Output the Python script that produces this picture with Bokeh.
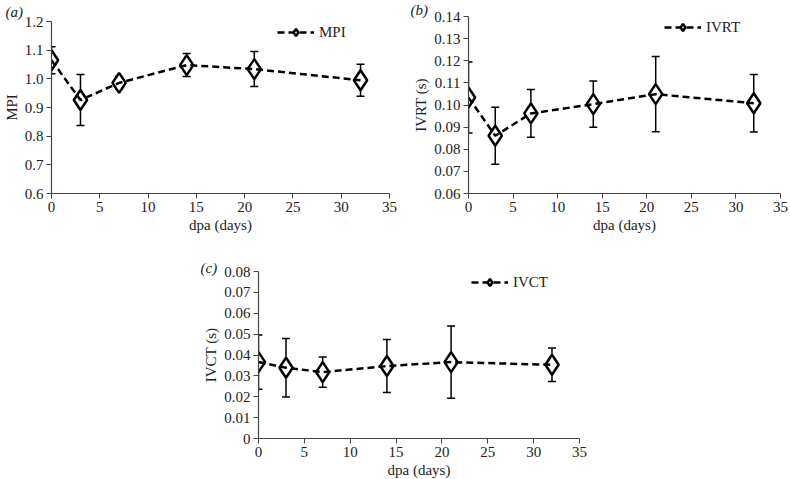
from bokeh.plotting import figure
from bokeh.models import (Whisker, ColumnDataSource, Legend, LegendItem, Title,
                          FixedTicker, PrintfTickFormatter, Spacer, TeeHead)
from bokeh.layouts import column, row
from bokeh.embed import file_html
from bokeh.resources import INLINE

days = [0, 3, 7, 14, 21, 32]

mpi = [1.065, 0.926, 0.986, 1.048, 1.034, 0.995]
mpi_err = [0.047, 0.089, 0.022, 0.040, 0.061, 0.056]

ivrt = [0.1034, 0.0861, 0.0962, 0.1004, 0.1049, 0.1008]
ivrt_err = [0.0160, 0.0129, 0.0108, 0.0104, 0.0170, 0.0130]

ivct = [0.0366, 0.0339, 0.0318, 0.0347, 0.0366, 0.0353]
ivct_err = [0.0130, 0.0140, 0.0072, 0.0127, 0.0173, 0.0080]

x_ticks = [0, 5, 10, 15, 20, 25, 30, 35]
mpi_ticks = [0.6, 0.7, 0.8, 0.9, 1.0, 1.1, 1.2]
ivrt_ticks = [0.06, 0.07, 0.08, 0.09, 0.10, 0.11, 0.12, 0.13, 0.14]
ivct_ticks = [0, 0.01, 0.02, 0.03, 0.04, 0.05, 0.06, 0.07, 0.08]

FONT = "Liberation Serif"
TXT = "#222222"


def panel(vals, errs, name, ylabel, yticks, yfmt, yrange, letter, title_off,
          title_standoff, leg_loc, fw, fh, borders, overrides=None):
    bl, br, bt, bb = borders
    p = figure(frame_width=fw, frame_height=fh, x_range=(0, 35), y_range=yrange,
               output_backend="svg", toolbar_location=None,
               title=Title(text=letter, align="left", offset=title_off,
                           standoff=title_standoff, text_font=FONT,
                           text_font_size="15px", text_font_style="italic",
                           text_color=TXT),
               min_border_left=bl, min_border_right=br, min_border_top=bt,
               min_border_bottom=bb)
    p.outline_line_color = None
    p.xgrid.visible = False
    p.ygrid.visible = False
    src = ColumnDataSource(dict(x=days, y=vals,
                                lo=[v - e for v, e in zip(vals, errs)],
                                hi=[v + e for v, e in zip(vals, errs)]))
    sc = p.scatter("x", "y", source=src, marker="diamond", size=20,
                   fill_color="white", line_color="black", line_width=2.5)
    ln = p.line("x", "y", source=src, line_color="black", line_width=2.5,
                line_dash="7 4")
    w = Whisker(base="x", lower="lo", upper="hi", source=src,
                line_color="black", line_width=1.5,
                upper_head=TeeHead(size=8, line_color="black", line_width=1.5),
                lower_head=TeeHead(size=8, line_color="black", line_width=1.5))
    p.add_layout(w)

    for ax in (p.xaxis[0], p.yaxis[0]):
        ax.major_label_text_font = FONT
        ax.major_label_text_font_size = "15px"
        ax.major_label_text_color = TXT
        ax.axis_label_text_font = FONT
        ax.axis_label_text_font_size = "15px"
        ax.axis_label_text_font_style = "normal"
        ax.axis_label_text_color = TXT
        ax.minor_tick_line_color = None
        ax.major_tick_in = 0
        ax.major_tick_out = 5
        ax.axis_line_color = "#444444"
        ax.major_tick_line_color = "#444444"
        ax.axis_line_width = 1.2
    p.xaxis.ticker = FixedTicker(ticks=x_ticks)
    p.xaxis.axis_label = "dpa (days)"
    p.xaxis.axis_label_standoff = 2
    p.yaxis.ticker = FixedTicker(ticks=yticks)
    p.yaxis.formatter = PrintfTickFormatter(format=yfmt)
    if overrides:
        p.yaxis.major_label_overrides = overrides
    p.yaxis.axis_label = ylabel
    p.yaxis.axis_label_standoff = 2
    p.yaxis.major_label_standoff = 3
    p.xaxis.major_label_standoff = 3

    leg = Legend(items=[LegendItem(label=name, renderers=[ln, sc])],
                 location=leg_loc, border_line_alpha=0, background_fill_alpha=0,
                 padding=0, margin=0, glyph_width=37, glyph_height=18,
                 label_standoff=5, label_text_font=FONT,
                 label_text_font_size="15px", label_text_color=TXT,
                 label_height=18)
    p.add_layout(leg)
    return p


pa = panel(mpi, mpi_err, "MPI", "MPI", mpi_ticks, "%.1f", (0.6, 1.2), "(a)",
           -46, 3, (226, 172 - 20), 338, 172, (49, 13, 21, 47))
pb = panel(ivrt, ivrt_err, "IVRT", "IVRT (s)", ivrt_ticks, "%.2f", (0.06, 0.14),
           "(b)", -58, -2, (196, 177 - 20), 312, 177, (66, 10, 16, 47))
pc = panel(ivct, ivct_err, "IVCT", "IVCT (s)", ivct_ticks, "%.2f", (0, 0.08),
           "(c)", -58, -8, (213, 167 - 20), 321, 167, (70, 30, 31, 36),
           overrides={0: "0"})

layout = column(row(pa, column(pb)), row(Spacer(width=188, height=234), pc))

open("out.html", "w").write(file_html(layout, INLINE))
